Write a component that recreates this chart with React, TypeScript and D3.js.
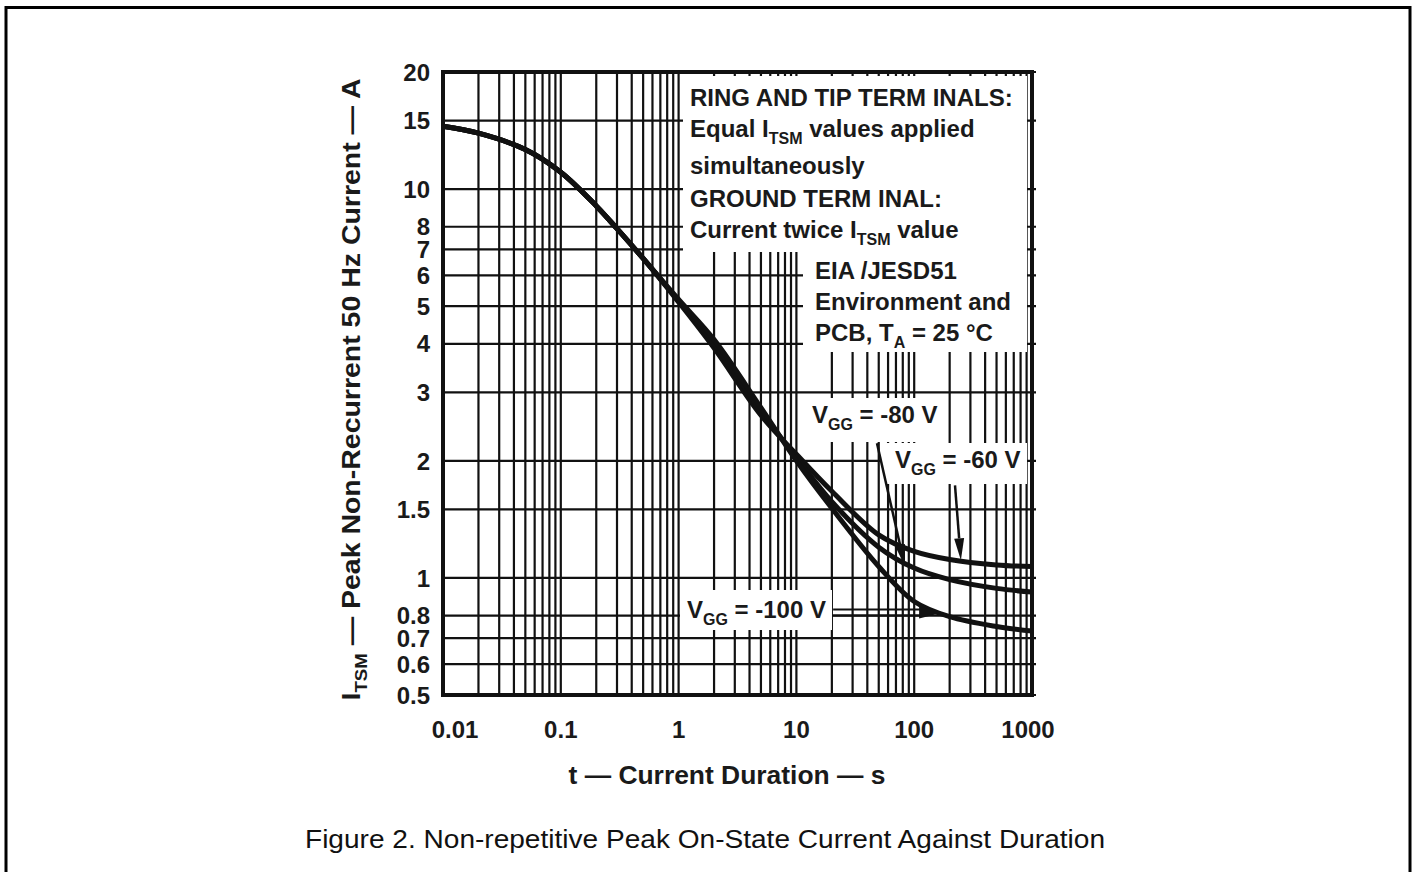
import React from 'react'
import * as d3 from 'd3'

// axis ticks
const timeTicks = [0.01, 0.1, 1, 10, 100, 1000]
const timeTickLabels = ['0.01', '0.1', '1', '10', '100', '1000']
const currentTicks = [20, 15, 10, 8, 7, 6, 5, 4, 3, 2, 1.5, 1, 0.8, 0.7, 0.6, 0.5]
const currentTickLabels = ['20', '15', '10', '8', '7', '6', '5', '4', '3', '2', '1.5', '1', '0.8', '0.7', '0.6', '0.5']

// t (s) and I_TSM (A)
const durations = [0.01, 0.02, 0.05, 0.1, 0.2, 0.3, 0.5, 1, 2, 5, 10, 20, 50, 100, 200, 500, 1000]
const vgg60 = [14.5, 13.92, 12.64, 11.05, 9.05, 7.91, 6.63, 5.12, 3.9, 2.62, 2.08, 1.67, 1.29, 1.17, 1.115, 1.08, 1.07]
const vgg80 = [14.5, 13.92, 12.64, 11.05, 9.05, 7.91, 6.63, 5.16, 4.0, 2.68, 2.04, 1.57, 1.2, 1.06, 0.99, 0.94, 0.92]
const vgg100 = [14.5, 13.92, 12.64, 11.05, 9.05, 7.91, 6.63, 5.2, 4.1, 2.74, 2.0, 1.51, 1.07, 0.87, 0.795, 0.75, 0.73]

const seriesList = [vgg60, vgg80, vgg100]

const W = 1415
const H = 872
const margin = { left: 443, right: 383, top: 72, bottom: 177 }
const font = '"Liberation Sans", Arial, sans-serif'

export default function App() {
  const x = d3.scaleLog().domain([0.01, 1000]).range([margin.left, W - margin.right])
  const y = d3.scaleLog().domain([0.5, 20]).range([H - margin.bottom, margin.top])

  const minorTimes: number[] = []
  d3.range(-2, 3).forEach(k => {
    d3.range(1, 10).forEach(m => minorTimes.push(m * Math.pow(10, k)))
  })

  const line = d3.line<[number, number]>()
    .x(d => x(d[0]))
    .y(d => y(d[1]))
    .curve(d3.curveCatmullRom.alpha(0.5))

  const x0 = x(0.01), x1 = x(1000), y0 = y(0.5), y1 = y(20)

  const arrow = (ax: number, ay: number, bx: number, by: number, len = 22, half = 5) => {
    const ang = Math.atan2(by - ay, bx - ax)
    const cx = bx - len * Math.cos(ang), cy = by - len * Math.sin(ang)
    const px = -Math.sin(ang) * half, py = Math.cos(ang) * half
    return (
      <g>
        <line x1={ax} y1={ay} x2={cx} y2={cy} stroke="#111" strokeWidth={2.5} />
        <polygon points={`${bx},${by} ${cx + px},${cy + py} ${cx - px},${cy - py}`} fill="#111" />
      </g>
    )
  }

  const txt = { fontFamily: font, fontWeight: 700, fontSize: 24, fill: '#1a1a1a' } as const
  const sub = (s: string) => <tspan dy={7} fontSize={16}>{s}</tspan>

  // -100 V double arrow
  const a100y = y(0.815)
  const a100x1 = x(20.5), a100tip = x(176)

  return (
    <svg width={W} height={H} style={{ position: 'absolute', left: 0, top: 0, background: '#fff' }}>
      <rect x={6} y={7.5} width={1404} height={H + 20} fill="none" stroke="#000" strokeWidth={3} />

      {/* grid */}
      <g stroke="#111" strokeWidth={2.2}>
        {minorTimes.filter(t => t > 0.01 && t < 1000).map((t, i) => (
          <line key={'v' + i} x1={x(t)} x2={x(t)} y1={y1} y2={y0} />
        ))}
        {currentTicks.map((c, i) => (
          <line key={'h' + i} x1={x0} x2={x1 + 4} y1={y(c)} y2={y(c)} />
        ))}
      </g>

      {/* annotation boxes mask the grid */}
      <g fill="#fff">
        <rect x={683} y={76} width={344} height={176} />
        <rect x={803} y={252} width={224} height={100} />
        <rect x={808} y={398} width={137} height={44} />
        <rect x={880} y={443} width={147} height={41} />
        <rect x={680} y={590} width={152} height={40} />
      </g>

      {/* curves */}
      {seriesList.map((s, i) => (
        <path key={i} d={line(durations.map((t, j) => [t, s[j]] as [number, number])) || ''}
          fill="none" stroke="#111" strokeWidth={5} strokeLinejoin="round" />
      ))}

      <rect x={x0} y={y1} width={x1 - x0} height={y0 - y1} fill="none" stroke="#111" strokeWidth={4} />

      {/* ticks */}
      {currentTicks.map((c, i) => (
        <text key={'yl' + i} x={x0 - 13} y={y(c)} dy="0.36em" textAnchor="end" {...txt}>{currentTickLabels[i]}</text>
      ))}
      {timeTicks.map((t, i) => (
        <text key={'xl' + i} x={x(t) + (i === 0 ? 12 : i === timeTicks.length - 1 ? -4 : 0)} y={y0 + 43}
          textAnchor="middle" {...txt}>{timeTickLabels[i]}</text>
      ))}

      <text x={727} y={y0 + 89} textAnchor="middle" {...txt} fontSize={25}
        textLength={317} lengthAdjust="spacingAndGlyphs">t — Current Duration — s</text>
      <text transform={`translate(360,${(y0 + y1) / 2 + 6}) rotate(-90)`} textAnchor="middle" {...txt} fontSize={26}
        textLength={622} lengthAdjust="spacingAndGlyphs">
        I<tspan dy={7} fontSize={17}>TSM</tspan><tspan dy={-7}> — Peak Non-Recurrent 50 Hz Current — A</tspan>
      </text>

      {/* annotations */}
      <g {...txt}>
        <text x={690} y={106}>RING AND TIP TERM INALS:</text>
        <text x={690} y={137}>Equal I{sub('TSM')}<tspan dy={-7}> values applied</tspan></text>
        <text x={690} y={174}>simultaneously</text>
        <text x={690} y={207}>GROUND TERM INAL:</text>
        <text x={690} y={238}>Current twice I{sub('TSM')}<tspan dy={-7}> value</tspan></text>
        <text x={815} y={279}>EIA /JESD51</text>
        <text x={815} y={310}>Environment and</text>
        <text x={815} y={341}>PCB, T{sub('A')}<tspan dy={-7}> = 25 °C</tspan></text>
        <text x={812} y={423}>V{sub('GG')}<tspan dy={-7}> = -80 V</tspan></text>
        <text x={895} y={468}>V{sub('GG')}<tspan dy={-7}> = -60 V</tspan></text>
        <text x={687} y={618}>V{sub('GG')}<tspan dy={-7}> = -100 V</tspan></text>
      </g>

      {arrow(x(48.3), y(2.22), x(83.5), y(1.07))}
      {arrow(x(222), y(1.73), x(249), y(1.11))}
      <g stroke="#111" strokeWidth={2}>
        <line x1={a100x1} x2={a100tip - 18} y1={a100y - 3} y2={a100y - 3} />
        <line x1={a100x1} x2={a100tip - 18} y1={a100y + 3} y2={a100y + 3} />
      </g>
      <polygon points={`${a100tip},${a100y} ${a100tip - 24},${a100y - 6} ${a100tip - 24},${a100y + 6}`} fill="#111" />

      <text x={705} y={848} textAnchor="middle" fontFamily={font} fontSize={25} fill="#111"
        textLength={800} lengthAdjust="spacingAndGlyphs">
        Figure 2. Non-repetitive Peak On-State Current Against Duration
      </text>
    </svg>
  )
}
